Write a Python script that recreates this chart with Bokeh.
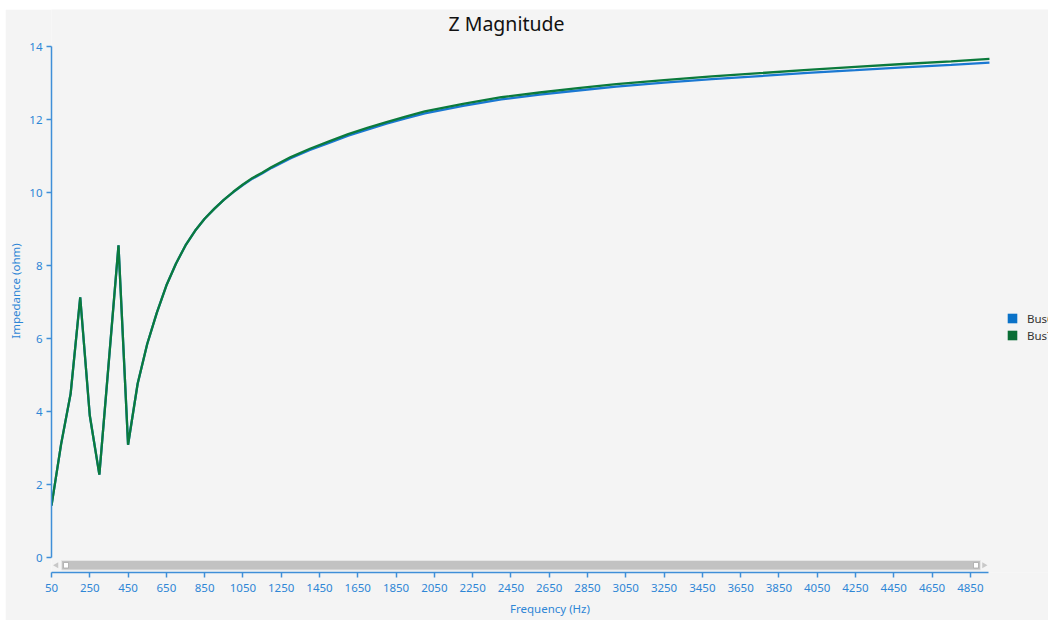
from bokeh.plotting import figure
from bokeh.models import (FixedTicker, Legend, LegendItem, Range1d, Label)
from bokeh.embed import file_html
from bokeh.resources import INLINE

# ---------------- data ----------------
freq = [50, 100, 150, 200, 250, 300, 350, 400, 450, 500, 550, 600, 650, 700, 750,
        800, 850, 900, 950, 1000, 1050, 1100, 1150, 1200, 1300, 1400, 1500, 1600, 1700,
        1800, 1900, 2000, 2200, 2400, 2600, 2800, 3000, 3250, 3500, 3750, 4000, 4250,
        4500, 4750, 4950]

bus_a = [1.42, 3.10, 4.49, 7.13, 3.89, 2.27, 5.40, 8.55, 3.09, 4.76, 5.85, 6.70, 7.45, 8.05, 8.55,
         8.95, 9.28, 9.55, 9.80, 10.01, 10.205, 10.38, 10.52, 10.675, 10.94, 11.165, 11.36, 11.56, 11.725,
         11.885, 12.03, 12.17, 12.375, 12.55, 12.68, 12.795, 12.90, 13.01, 13.105, 13.19, 13.275, 13.35,
         13.43, 13.495, 13.56]

bus_b = [1.42, 3.10, 4.49, 7.13, 3.89, 2.27, 5.40, 8.55, 3.09, 4.76, 5.85, 6.70, 7.45, 8.05, 8.55,
         8.95, 9.28, 9.55, 9.80, 10.02, 10.22, 10.40, 10.54, 10.70, 10.97, 11.20, 11.40, 11.60, 11.77,
         11.93, 12.08, 12.22, 12.43, 12.61, 12.74, 12.86, 12.97, 13.08, 13.18, 13.27, 13.36, 13.44,
         13.52, 13.59, 13.66]

series_names = ["Bus6", "Bus7"]
title_text = "Z Magnitude"
x_label = "Frequency (Hz)"
y_label = "Impedance (ohm)"
x_ticks = list(range(50, 4851, 200))
y_ticks = [0, 2, 4, 6, 8, 10, 12, 14]
x_axis_span = (50, 4945)
y_axis_span = (0, 14)

BLUE = "#1a78d2"
GREEN = "#0b7a3c"
AXIS_BLUE = "#3f8fd8"
TEXT_BLUE = "#2e86d6"
BG = "#f4f4f4"
FONT = "Noto Sans"

# pixel geometry of the reference (page pixels)
PX_X0, PX_X1 = 51, 988        # x axis from 50 Hz to its end
PX_Y0, PX_Y14 = 557, 46       # y = 0 and y = 14
PX_XAXIS = 572                # x axis line
PAGE_W, PAGE_H = 1048, 620
ML, MT = 5, 9                 # canvas offset in the page

hz_per_px = (x_axis_span[1] - x_axis_span[0]) / (PX_X1 - PX_X0)
px_per_y = (PX_Y0 - PX_Y14) / 14.0

def px2x(px):
    return x_axis_span[0] + (px - PX_X0) * hz_per_px

def py2y(py):
    return (PX_Y0 - py) / px_per_y

canvas_w = PAGE_W - ML
canvas_h = PAGE_H - MT
border_left = PX_X0 - ML
border_bottom = PAGE_H - PX_XAXIS

p = figure(width=canvas_w, height=canvas_h, output_backend="svg", toolbar_location=None,
           x_range=Range1d(x_axis_span[0], px2x(PAGE_W)),
           y_range=Range1d(py2y(PX_XAXIS), py2y(MT)),
           min_border_left=border_left, min_border_right=0, min_border_top=0,
           min_border_bottom=border_bottom)
p.margin = (MT, 0, 0, ML)

p.background_fill_color = BG
p.border_fill_color = BG
p.outline_line_color = None
p.grid.visible = False

for ax in (p.xaxis[0], p.yaxis[0]):
    ax.axis_line_color = AXIS_BLUE
    ax.axis_line_width = 1.5
    ax.major_tick_line_color = AXIS_BLUE
    ax.major_tick_line_width = 1.5
    ax.major_tick_out = 5
    ax.major_tick_in = 0
    ax.minor_tick_line_color = None
    ax.major_label_text_color = TEXT_BLUE
    ax.major_label_text_font = FONT
    ax.major_label_text_font_size = "11.5px"
    ax.axis_label_text_color = TEXT_BLUE
    ax.axis_label_text_font = FONT
    ax.axis_label_text_font_size = "11.5px"
    ax.axis_label_text_font_style = "normal"

p.xaxis.ticker = FixedTicker(ticks=x_ticks)
p.yaxis.ticker = FixedTicker(ticks=y_ticks)
p.xaxis.bounds = x_axis_span
p.yaxis.bounds = y_axis_span
p.xaxis.axis_label = x_label
p.yaxis.axis_label = y_label
p.xaxis.major_label_standoff = 6
p.xaxis.axis_label_standoff = 6
p.yaxis.major_label_standoff = 4
p.yaxis.axis_label_standoff = 3

# ---- title (inside the extended frame, above the y = 14 end of the axis) ----
p.add_layout(Label(x=px2x(506), y=py2y(23), text=title_text,
                   text_align="center", text_baseline="middle", text_font=FONT,
                   text_font_size="19.5px", text_color="#111111"))

# ---- scrollbar decoration (below zero line) ----
p.quad(left=[px2x(61)], right=[px2x(980)], top=[py2y(560)], bottom=[py2y(569.5)],
       fill_color="#c2c2c2", line_color="#e6e6e6", line_width=1)
p.quad(left=[px2x(63), px2x(973)], right=[px2x(68), px2x(978)],
       top=[py2y(562), py2y(562)], bottom=[py2y(567.5), py2y(567.5)],
       fill_color="#ffffff", line_color="#a8a8a8", line_width=0.8)
p.scatter(x=[px2x(56), px2x(983.5)], y=[py2y(564.7), py2y(564.7)],
          marker="triangle", angle=[1.5708, -1.5708], size=6,
          fill_color="#c8c8c8", line_color=None)

# ---- series ----
r1 = p.line(freq, bus_a, line_color=BLUE, line_width=2.3)
r2 = p.line(freq, bus_b, line_color=GREEN, line_width=2.3)

# legend swatches (area renderers with no drawable point; used only by the legend)
nan = float("nan")
sq1 = p.quad(left=[nan], right=[nan], top=[nan], bottom=[nan],
             fill_color="#0a72c8", line_color=None)
sq2 = p.quad(left=[nan], right=[nan], top=[nan], bottom=[nan],
             fill_color="#0a6e36", line_color=None)

legend = Legend(items=[LegendItem(label=series_names[0], renderers=[sq1]),
                       LegendItem(label=series_names[1], renderers=[sq2])],
                location=(1006 - PX_X0, PX_XAXIS - 342.5), orientation="vertical",
                glyph_width=12, glyph_height=12, label_height=10, label_width=30,
                spacing=2, padding=0, margin=0, label_standoff=9,
                background_fill_alpha=0, border_line_color=None,
                label_text_font=FONT, label_text_font_size="11.5px",
                label_text_color="#333333")
p.add_layout(legend, "center")

open("out.html", "w").write(file_html(p, INLINE))
